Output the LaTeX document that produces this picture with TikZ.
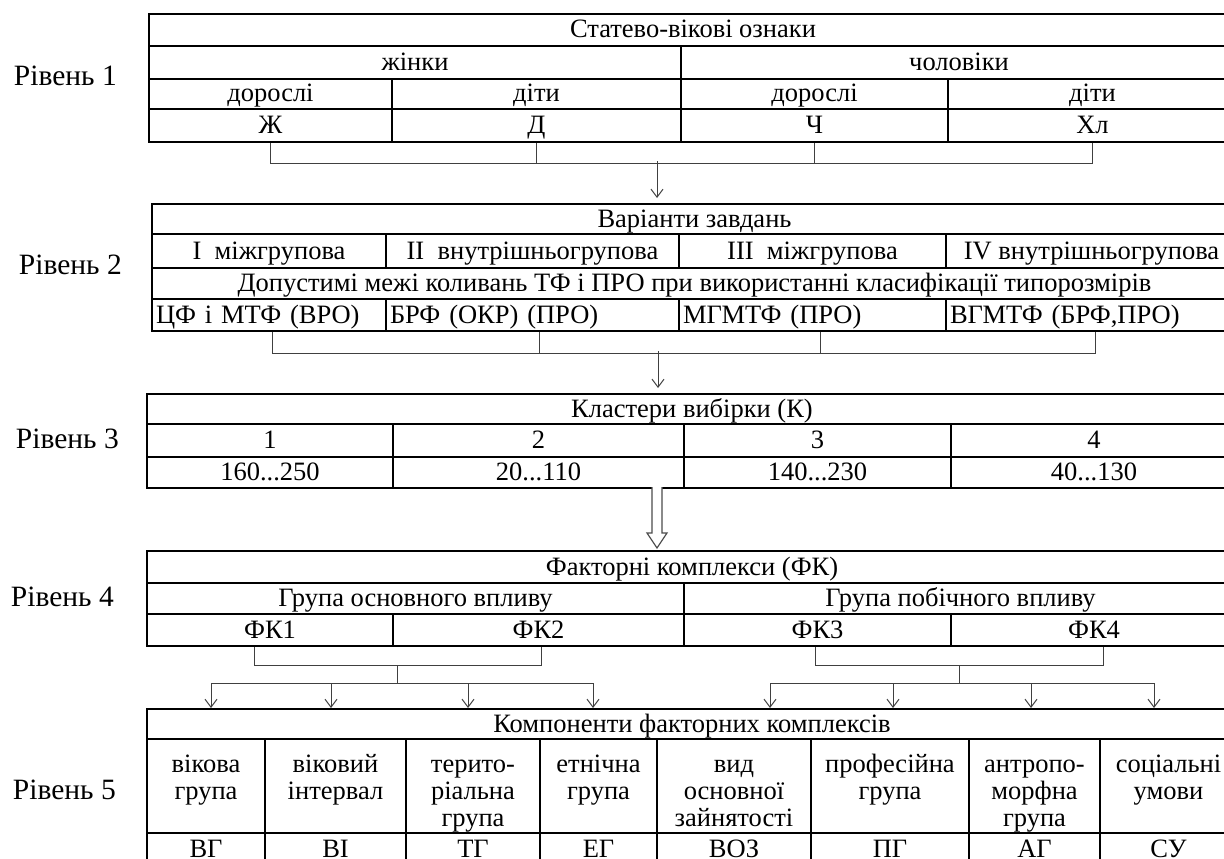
\documentclass[tikz,border=0pt]{standalone}
\usepackage{fontspec}
\setmainfont{Liberation Serif}
\usetikzlibrary{arrows.meta}
\newcommand\Cell[7][]{%
	\pgfmathsetmacro\cellw{#5-#3}%
	\pgfmathsetmacro\cellh{#6-#4}%
	\pgfmathsetmacro\celltw{#5-#3-8}%
	\node[Cell,minimum width=\cellw pt,minimum height=\cellh pt,anchor=north west,#1] (#2) at (#3,#4) {#7};}

\begin{document}
\begin{tikzpicture}[x=1pt,y=-1pt,>={Straight Barb[length=8pt,width=12pt]}]
	\tikzset{Cell/.style = {draw,line width=2pt,inner sep=0pt,font=\fontsize{26.5}{27}\selectfont,text height=20pt,text depth=4pt}}
	\tikzset{lft/.style = {inner xsep=4pt,text width=\celltw pt,align=left}}
	\tikzset{tall/.style = {text height=86pt,text depth=6pt,align=center}}
	\tikzset{low/.style = {text height=19pt,text depth=0pt}}
	\tikzset{level/.style = {font=\fontsize{29.5}{30}\selectfont,anchor=base east,inner sep=0pt}}
	\tikzset{link/.style = {line width=1pt,draw=black!75}}
	\tikzset{hollow/.style = {line width=1.2pt,draw=black!70,fill=white}}
	\useasboundingbox (0,0) rectangle (1224,859);

	\Cell{t1}{148}{13}{1236}{45}{Статево-вікові ознаки}
	\Cell{zh}{148}{45}{680}{78}{жінки}
	\Cell{ch}{680}{45}{1236}{78}{чоловіки}
	\Cell{zd}{148}{78}{391}{108}{дорослі}
	\Cell{zt}{391}{78}{680}{108}{діти}
	\Cell{cd}{680}{78}{947}{108}{дорослі}
	\Cell{ct}{947}{78}{1236}{108}{діти}
	\Cell{g1}{148}{108}{391}{141}{Ж}
	\Cell{g2}{391}{108}{680}{141}{Д}
	\Cell{g3}{680}{108}{947}{141}{Ч}
	\Cell{g4}{947}{108}{1236}{141}{Хл}

	\Cell{t2}{151}{203}{1236}{233}{Варіанти завдань}
	\Cell{v1}{151}{233}{385}{267}{I\ \ міжгрупова}
	\Cell{v2}{385}{233}{678}{267}{II\ \ внутрішньогрупова}
	\Cell{v3}{678}{233}{945}{267}{III\ \ міжгрупова}
	\Cell{v4}{945}{233}{1236}{267}{IV внутрішньогрупова}
	\Cell{dm}{151}{267}{1236}{298}{Допустимі межі коливань ТФ і ПРО при використанні класифікації типорозмірів}
	\Cell[lft]{p1}{151}{298}{385}{330}{ЦФ і МТФ (ВРО)}
	\Cell[lft]{p2}{385}{298}{678}{330}{БРФ (ОКР) (ПРО)}
	\Cell[lft]{p3}{678}{298}{945}{330}{МГМТФ (ПРО)}
	\Cell[lft]{p4}{945}{298}{1236}{330}{ВГМТФ (БРФ,ПРО)}

	\Cell{t3}{146}{393}{1236}{423}{Кластери вибірки (К)}
	\Cell{n1}{146}{423}{392}{456}{1}
	\Cell{n2}{392}{423}{683}{456}{2}
	\Cell{n3}{683}{423}{950}{456}{3}
	\Cell{n4}{950}{423}{1236}{456}{4}
	\Cell{s1}{146}{456}{392}{487}{160...250}
	\Cell{s2}{392}{456}{683}{487}{20...110}
	\Cell{s3}{683}{456}{950}{487}{140...230}
	\Cell{s4}{950}{456}{1236}{487}{40...130}

	\Cell{t4}{146}{550}{1236}{582}{Факторні комплекси (ФК)}
	\Cell{o1}{146}{582}{683}{613}{Група основного впливу}
	\Cell{o2}{683}{582}{1236}{613}{Група побічного впливу}
	\Cell{f1}{146}{613}{392}{645}{ФК1}
	\Cell{f2}{392}{613}{683}{645}{ФК2}
	\Cell{f3}{683}{613}{950}{645}{ФК3}
	\Cell{f4}{950}{613}{1236}{645}{ФК4}

	\Cell{k}{146}{708}{1236}{738}{Компоненти факторних комплексів}
	\Cell[tall]{e1}{146}{738}{264}{832}{вікова\\група\\\mbox{}}
	\Cell[tall]{e2}{264}{738}{405}{832}{віковий\\інтервал\\\mbox{}}
	\Cell[tall]{e3}{405}{738}{539}{832}{терито-\\ріальна\\група}
	\Cell[tall]{e4}{539}{738}{656}{832}{етнічна\\група\\\mbox{}}
	\Cell[tall]{e5}{656}{738}{810}{832}{вид\\основної\\зайнятості}
	\Cell[tall]{e6}{810}{738}{968}{832}{професійна\\група\\\mbox{}}
	\Cell[tall]{e7}{968}{738}{1099}{832}{антропо-\\морфна\\група}
	\Cell[tall]{e8}{1099}{738}{1236}{832}{соціальні\\умови\\\mbox{}}
	\Cell[low]{u1}{146}{832}{264}{861}{ВГ}
	\Cell[low]{u2}{264}{832}{405}{861}{ВІ}
	\Cell[low]{u3}{405}{832}{539}{861}{ТГ}
	\Cell[low]{u4}{539}{832}{656}{861}{ЕГ}
	\Cell[low]{u5}{656}{832}{810}{861}{ВОЗ}
	\Cell[low]{u6}{810}{832}{968}{861}{ПГ}
	\Cell[low]{u7}{968}{832}{1099}{861}{АГ}
	\Cell[low]{u8}{1099}{832}{1236}{861}{СУ}

	\node[level] (r1) at (117,85) {Рівень 1};
	\node[level] (r2) at (122,274) {Рівень 2};
	\node[level] (r3) at (119,448) {Рівень 3};
	\node[level] (r4) at (114,606) {Рівень 4};
	\node[level] (r5) at (116,799) {Рівень 5};

	\draw[link] (g1.south) -- ++(0,20) coordinate (h1) -| (g4.south);
	\draw[link] (g2.south) -- (g2.south |- h1);
	\draw[link] (g3.south) -- (g3.south |- h1);
	\coordinate (a1) at (657,161);
	\draw[link,->,shorten >=5pt] (a1) -- (a1 |- t2.north);

	\draw[link] ([xshift=3pt]p1.south) -- ++(0,21) coordinate (h2) -| ([xshift=4pt]p4.south);
	\draw[link] ([xshift=7pt]p2.south) -- ([xshift=7pt]p2.south |- h2);
	\draw[link] ([xshift=8pt]p3.south) -- ([xshift=8pt]p3.south |- h2);
	\coordinate (a2) at (658,351);
	\draw[link,->,shorten >=5pt] (a2) -- (a2 |- t3.north);

	\coordinate (a3) at (657,487);
	\coordinate (a4) at (657,548);
	\draw[hollow] ([xshift=-5pt]a3) -- ([xshift=-5pt,yshift=15pt]a4) -- ([xshift=-10pt,yshift=15pt]a4) -- (a4)
		-- ([xshift=10pt,yshift=15pt]a4) -- ([xshift=5pt,yshift=15pt]a4) -- ([xshift=5pt]a3);

	\draw[link] ([xshift=-16pt]f1.south) -- ++(0,18) -| coordinate[pos=0.25] (m1) ([xshift=3pt]f2.south);
	\draw[link] ([xshift=-2pt]f3.south) -- ++(0,18) -| coordinate[pos=0.25] (m2) ([xshift=9pt]f4.south);
	\foreach \x [count=\i] in {211,331,468,593,770,893,1031,1154}
		\coordinate (d\i) at (\x,683);
	\draw[link] (m1) -- (m1 |- d1);
	\draw[link] (m2) -- (m2 |- d5);
	\draw[link] (d1) -- (d4);
	\draw[link] (d5) -- (d8);
	\foreach \i in {1,...,8}
		\draw[link,->] (d\i) -- (d\i |- k.north);
\end{tikzpicture}
\end{document}
